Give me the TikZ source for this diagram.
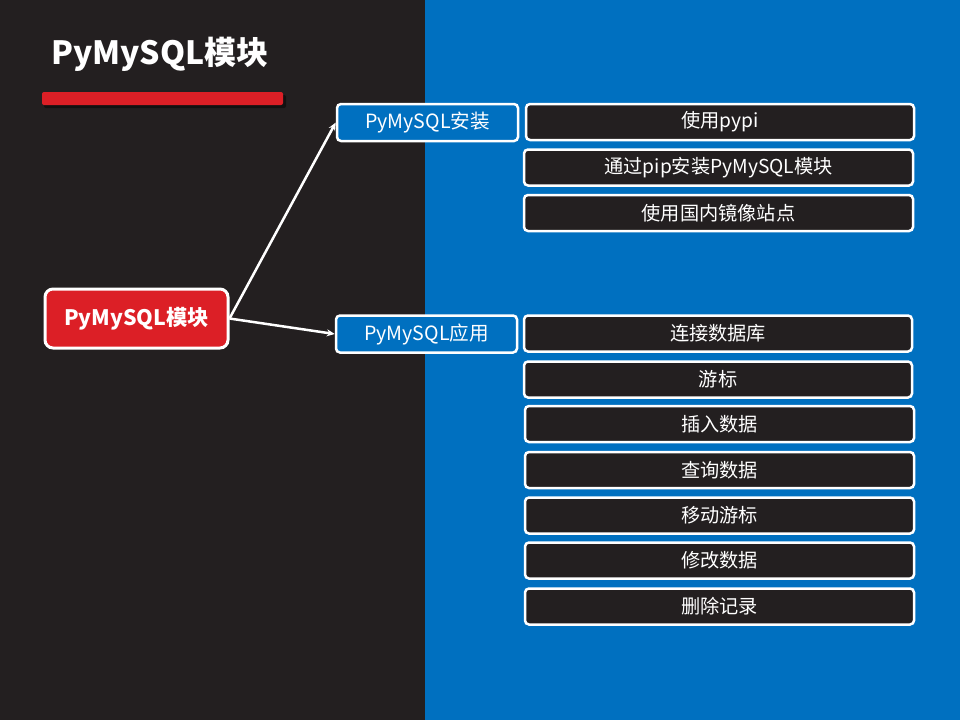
\documentclass[tikz,border=0pt]{standalone}
\usepackage{fontspec}
\setmainfont{Noto Sans CJK SC}
\usetikzlibrary{arrows.meta}
\definecolor{darkbg}{HTML}{231F20}
\definecolor{bluebg}{HTML}{0070C0}
\definecolor{redc}{HTML}{DC1F26}
\tikzset{
  basebox/.style={rectangle, rounded corners=4pt, draw=white, line width=2.5pt, text=white, inner sep=0pt, font=\fontsize{19.2}{21}\selectfont},
  leafbox/.style={basebox, fill=darkbg, minimum width=386pt, minimum height=36pt},
  midbox/.style={basebox, fill=bluebg, minimum width=181pt, minimum height=37pt, font=\fontsize{19.6}{21}\selectfont},
  rootbox/.style={basebox, fill=redc, rounded corners=8pt, line width=3pt, minimum width=183pt, minimum height=59pt, font=\fontsize{21.3}{24}\selectfont\bfseries},
  conn/.style={draw=white, line width=2.5pt, -{Stealth[length=8pt,width=7pt]}}
}
\begin{document}
\begin{tikzpicture}[x=1pt,y=-1pt]
\useasboundingbox (0,0) rectangle (960,720);
\fill[darkbg] (0,0) rectangle (425,720);
\fill[bluebg] (425,0) rectangle (960,720);
\node[text=white, font=\fontsize{32}{36}\selectfont\bfseries] (title) at (160,54) {PyMySQL模块};
\fill[black, opacity=0.45, rounded corners=2pt] (44,95) rectangle (286,108);
\fill[redc, rounded corners=2pt] (42,92) rectangle (283,105);
\node[rootbox] (root) at (136.5,318.5) {PyMySQL模块};
\node[midbox] (inst) at (427.5,122.5) {PyMySQL安装};
\node[midbox] (app) at (426.5,334) {PyMySQL应用};
\node[leafbox, minimum width=388pt] (a1) at (720,122) {使用pypi};
\node[leafbox, minimum width=389pt] (a2) at (718.5,167.5) {通过pip安装PyMySQL模块};
\node[leafbox, minimum width=389pt] (a3) at (718.5,213) {使用国内镜像站点};
\node[leafbox, minimum width=388pt] (b1) at (718,333.5) {连接数据库};
\node[leafbox, minimum width=388pt] (b2) at (718,379.5) {游标};
\node[leafbox, minimum width=389pt] (b3) at (719.5,424) {插入数据};
\node[leafbox, minimum width=389pt] (b4) at (719.5,470) {查询数据};
\node[leafbox, minimum width=389pt] (b5) at (719.5,515.5) {移动游标};
\node[leafbox, minimum width=389pt] (b6) at (719.5,560.5) {修改数据};
\node[leafbox, minimum width=389pt] (b7) at (719.5,606.5) {删除记录};
\draw[conn] (root.east) -- (inst.west);
\draw[conn] (root.east) -- (app.west);
\end{tikzpicture}
\end{document}
